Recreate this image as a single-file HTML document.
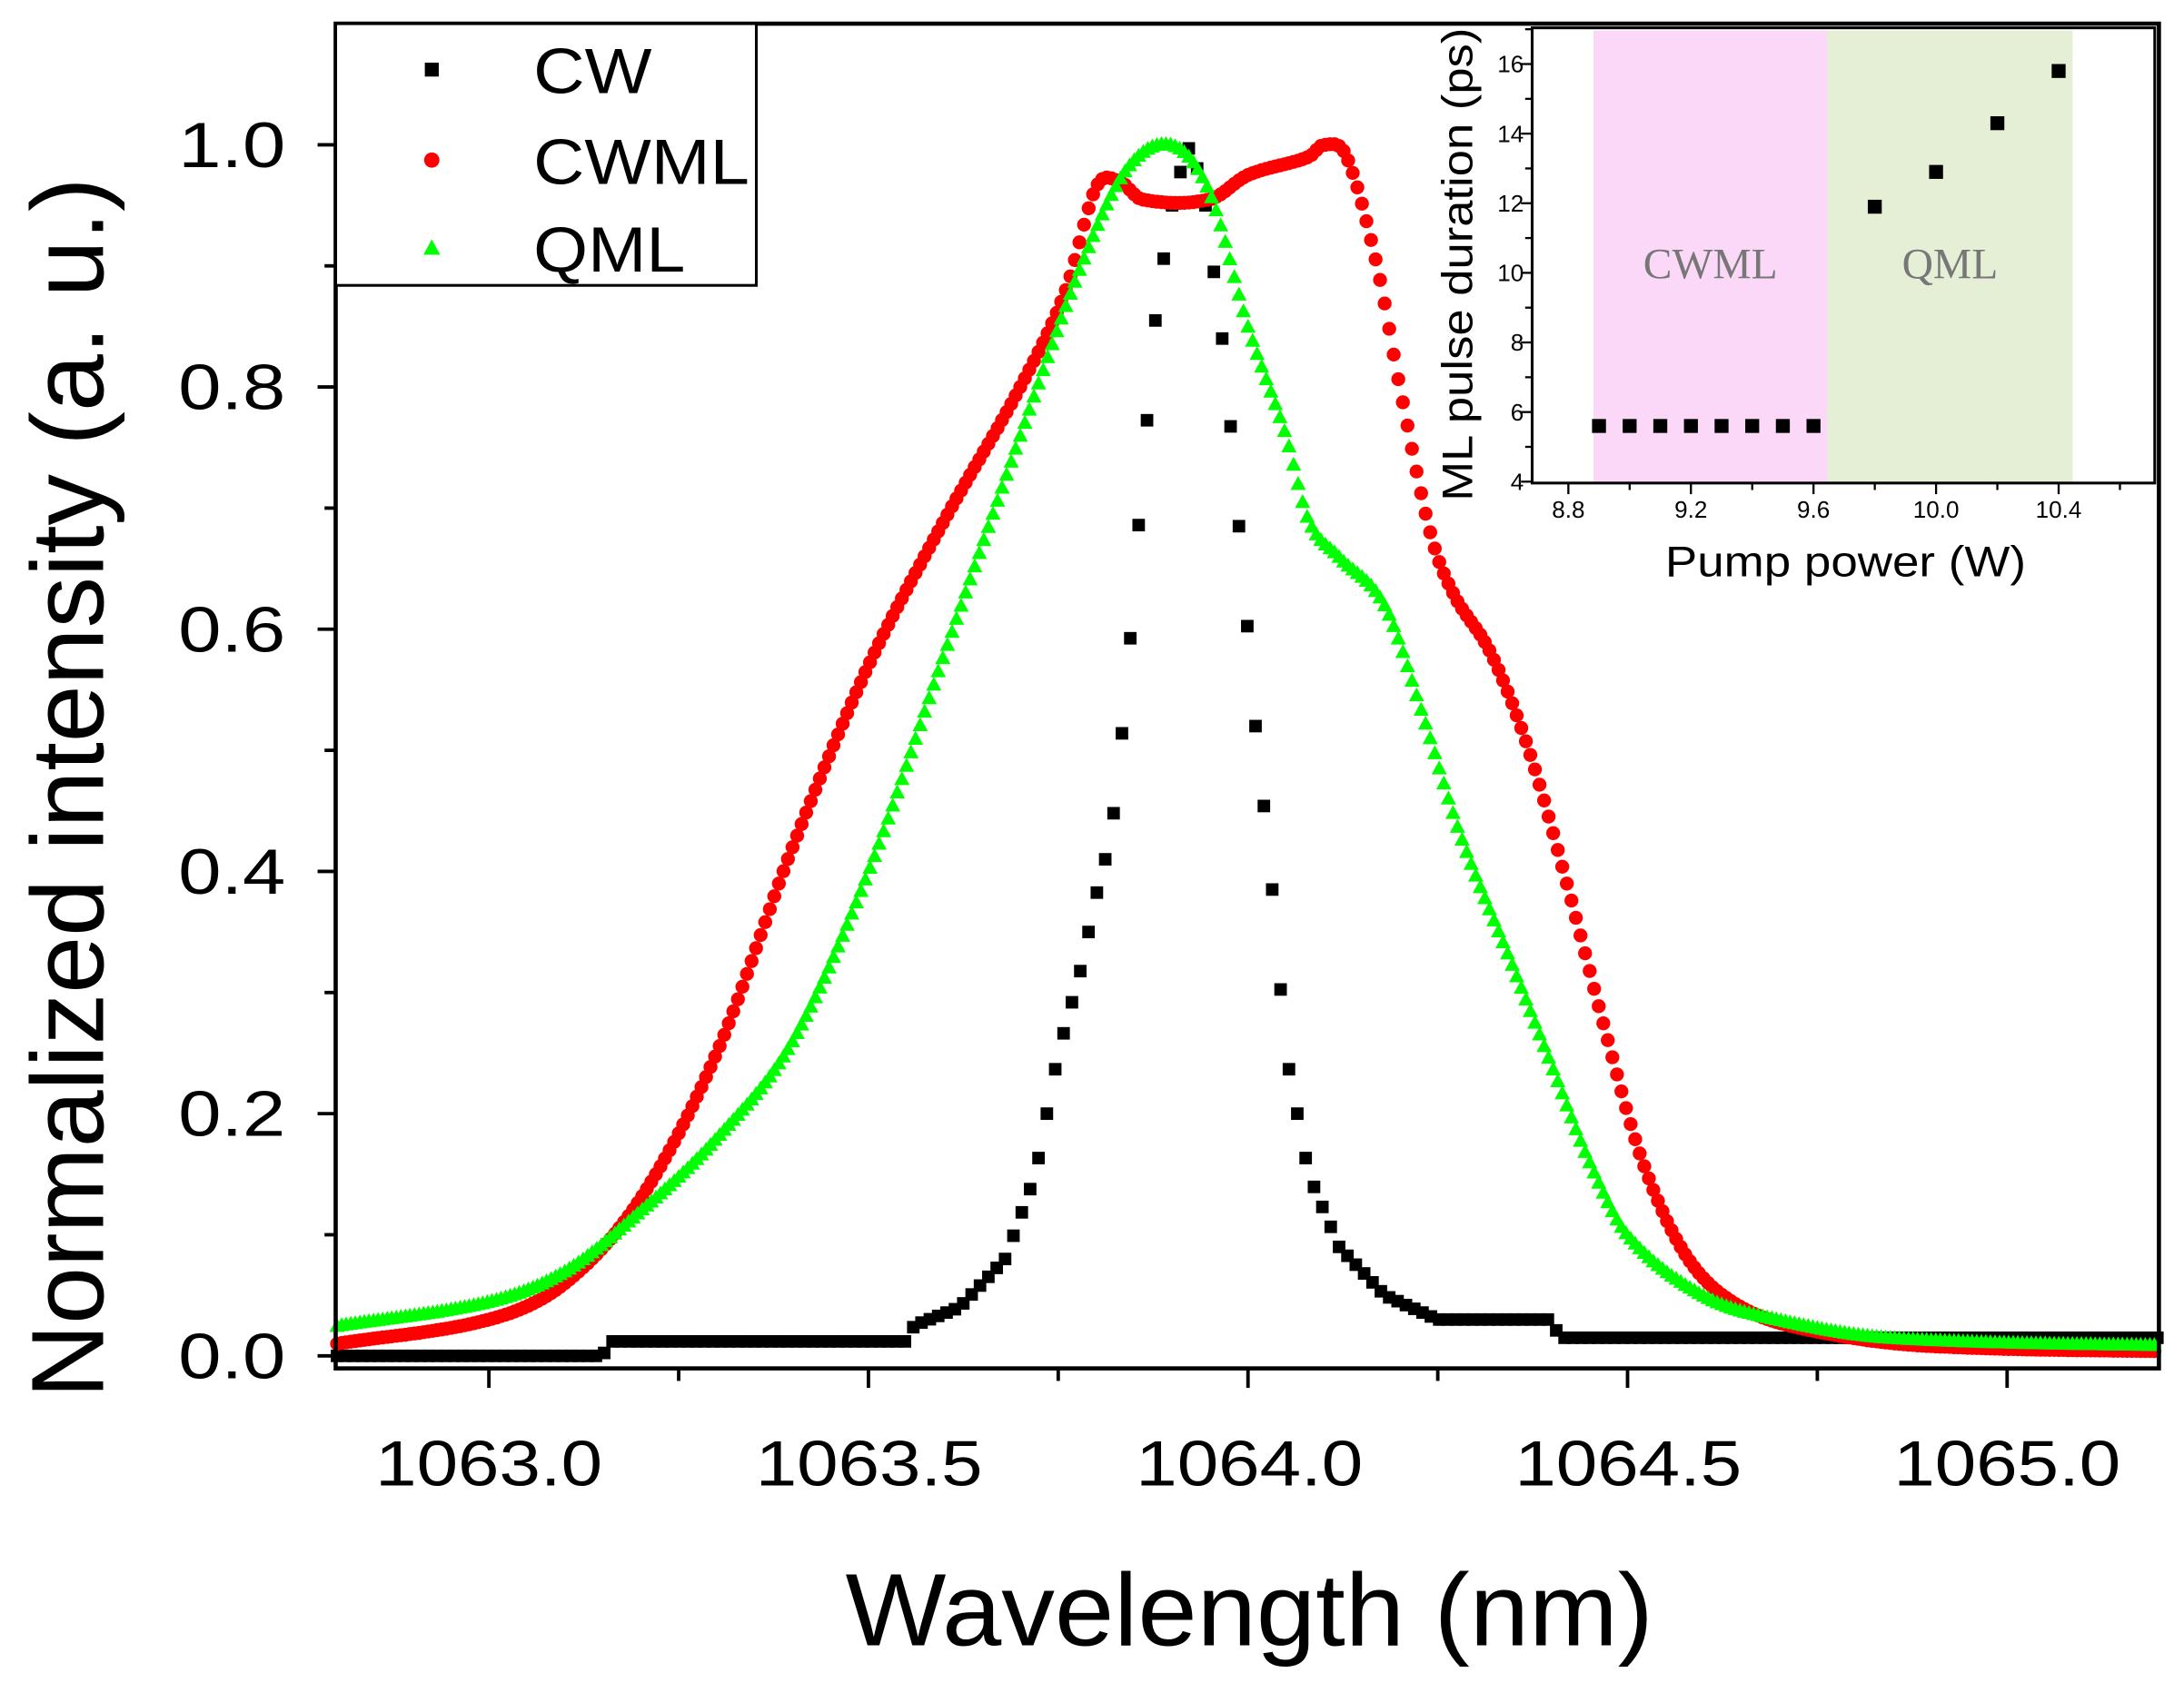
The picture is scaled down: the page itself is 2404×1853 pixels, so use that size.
<!DOCTYPE html>
<html><head><meta charset="utf-8"><style>
html,body{margin:0;padding:0;background:#fff;}
svg{display:block;}
text{font-family:"Liberation Sans",sans-serif;}
</style></head><body>
<svg id="s" width="2404" height="1853" viewBox="0 0 1568 1209" preserveAspectRatio="none" xmlns="http://www.w3.org/2000/svg">
<rect x="0" y="0" width="1568" height="1209" fill="#fff"/>
<g id="data"></g>
<rect x="241" y="17" width="1309" height="966" fill="none" stroke="#000" stroke-width="3"/>
<g id="ticks" stroke="#000" stroke-width="2.5"></g>
<g font-size="46" text-anchor="end" lengthAdjust="spacingAndGlyphs">
<text x="205" y="990" textLength="77" lengthAdjust="spacingAndGlyphs">0.0</text><text x="205" y="816" textLength="77" lengthAdjust="spacingAndGlyphs">0.2</text><text x="205" y="642" textLength="77" lengthAdjust="spacingAndGlyphs">0.4</text><text x="205" y="468" textLength="77" lengthAdjust="spacingAndGlyphs">0.6</text><text x="205" y="294" textLength="77" lengthAdjust="spacingAndGlyphs">0.8</text><text x="205" y="120" textLength="77" lengthAdjust="spacingAndGlyphs">1.0</text>
</g>
<g font-size="46" text-anchor="middle">
<text x="351" y="1067" textLength="163" lengthAdjust="spacingAndGlyphs">1063.0</text><text x="624" y="1067" textLength="163" lengthAdjust="spacingAndGlyphs">1063.5</text><text x="897" y="1067" textLength="163" lengthAdjust="spacingAndGlyphs">1064.0</text><text x="1169" y="1067" textLength="163" lengthAdjust="spacingAndGlyphs">1064.5</text><text x="1441" y="1067" textLength="163" lengthAdjust="spacingAndGlyphs">1065.0</text>
</g>
<text x="897" y="1182" font-size="74" text-anchor="middle" textLength="580" lengthAdjust="spacingAndGlyphs">Wavelength (nm)</text>
<text transform="translate(74,566) rotate(-90)" font-size="74" text-anchor="middle" textLength="877" lengthAdjust="spacingAndGlyphs">Normalized intensity (a. u.)</text>
<rect x="241" y="17" width="302" height="188" fill="#fff" stroke="#000" stroke-width="2"/>
<rect x="305" y="45" width="10" height="10" fill="#000"/>
<circle cx="310" cy="115" r="5.5" fill="#f00"/>
<polygon points="310,172 316,183 304,183" fill="#0f0"/>
<g font-size="46"><text x="383" y="67" textLength="85" lengthAdjust="spacingAndGlyphs">CW</text><text x="383" y="132" textLength="155" lengthAdjust="spacingAndGlyphs">CWML</text><text x="383" y="195" textLength="109" lengthAdjust="spacingAndGlyphs">QML</text></g>
<rect x="1100" y="20" width="447" height="327" fill="#fff"/>
<rect x="1144" y="22" width="168" height="324" fill="#fbd8f7"/>
<rect x="1312" y="22" width="176" height="324" fill="#e4efd6"/>
<rect x="1100" y="20" width="447" height="327" fill="none" stroke="#000" stroke-width="2"/>
<g id="iticks" stroke="#000" stroke-width="1.5"></g>
<g font-size="17" text-anchor="end">
<text x="1094" y="352">4</text><text x="1094" y="302">6</text><text x="1094" y="252">8</text><text x="1094" y="202">10</text><text x="1094" y="152">12</text><text x="1094" y="102">14</text><text x="1094" y="52">16</text>
</g>
<g font-size="17" text-anchor="middle">
<text x="1126" y="372">8.8</text><text x="1214" y="372">9.2</text><text x="1302" y="372">9.6</text><text x="1390" y="372">10.0</text><text x="1478" y="372">10.4</text>
</g>
<text x="1325" y="414" font-size="31" text-anchor="middle" textLength="259" lengthAdjust="spacingAndGlyphs">Pump power (W)</text>
<text transform="translate(1057,190) rotate(-90)" font-size="31" text-anchor="middle" textLength="340" lengthAdjust="spacingAndGlyphs">ML pulse duration (ps)</text>
<g font-size="31" fill="#777" text-anchor="middle">
<text x="1228" y="200" style="font-family:'Liberation Serif',serif">CWML</text>
<text x="1400" y="200" style="font-family:'Liberation Serif',serif">QML</text>
</g>
<g id="ipts" fill="#000"></g>
</svg>
<script>
function X(n){return 351+(n-1063)*545;}
function Y(v){return 974-v*870;}
function interp(pts,x){
 var n=pts.length;
 if(x<=pts[0][0])return pts[0][1];
 for(var i=1;i<n;i++){if(x<=pts[i][0]){
  var a=pts[i-1],b=pts[i];var h=b[0]-a[0],t=(x-a[0])/h;
  var p0=pts[Math.max(i-2,0)],p3=pts[Math.min(i+1,n-1)];
  var m0=(b[1]-p0[1])/(b[0]-p0[0])*h, m1=(p3[1]-a[1])/(p3[0]-a[0])*h;
  var t2=t*t,t3=t2*t;
  return (2*t3-3*t2+1)*a[1]+(t3-2*t2+t)*m0+(-2*t3+3*t2)*b[1]+(t3-t2)*m1;}}
 return pts[n-1][1];
}
function lin(pts,x){
 if(x<=pts[0][0])return pts[0][1];
 for(var i=1;i<pts.length;i++){if(x<=pts[i][0]){var a=pts[i-1],b=pts[i];return a[1]+(b[1]-a[1])*(x-a[0])/(b[0]-a[0]);}}
 return pts[pts.length-1][1];
}
var red=[[1062.8,0.01],[1063.0,0.03],[1063.1,0.06],[1063.2,0.13],[1063.3,0.25],[1063.4,0.42],[1063.5,0.57],[1063.6,0.69],[1063.7,0.80],[1063.76,0.88],[1063.8,0.965],[1063.83,0.97],[1063.86,0.955],[1063.95,0.955],[1064.0,0.975],[1064.08,0.99],[1064.1,1.0],[1064.13,0.99],[1064.17,0.90],[1064.2,0.80],[1064.24,0.68],[1064.27,0.63],[1064.32,0.58],[1064.37,0.50],[1064.42,0.39],[1064.47,0.27],[1064.52,0.16],[1064.58,0.08],[1064.65,0.04],[1064.75,0.02],[1064.9,0.008],[1065.3,0.003]];
var grn=[[1062.8,0.025],[1063.0,0.045],[1063.1,0.07],[1063.2,0.12],[1063.3,0.18],[1063.4,0.26],[1063.5,0.40],[1063.6,0.58],[1063.7,0.76],[1063.78,0.9],[1063.84,0.98],[1063.9,1.0],[1063.95,0.96],[1064.0,0.85],[1064.05,0.76],[1064.08,0.69],[1064.12,0.66],[1064.18,0.62],[1064.23,0.53],[1064.28,0.43],[1064.35,0.32],[1064.4,0.24],[1064.45,0.16],[1064.5,0.10],[1064.6,0.05],[1064.7,0.03],[1064.85,0.015],[1065.3,0.008]];
var cw=[[1062.8,0],[1063.15,0],[1063.16,0.012],[1063.55,0.012],[1063.56,0.025],[1063.62,0.04],[1063.68,0.08],[1063.72,0.15],[1063.75,0.25],[1063.78,0.32],[1063.8,0.38],[1063.82,0.43],[1063.84,0.55],[1063.86,0.72],[1063.88,0.87],[1063.9,0.95],[1063.92,1.0],[1063.94,0.97],[1063.97,0.82],[1063.99,0.67],[1064.01,0.52],[1064.03,0.4],[1064.05,0.25],[1064.08,0.15],[1064.12,0.09],[1064.18,0.05],[1064.25,0.03],[1064.4,0.03],[1064.41,0.015],[1065.3,0.015]];
var h="";var x0=1062.8,x1=1065.2;
for(var x=x0;x<=x1;x+=0.011){var px=X(x),py=Y(lin(cw,x));h+='<rect x="'+(px-4.5).toFixed(1)+'" y="'+(py-4.5).toFixed(1)+'" width="9" height="9" fill="#000"/>';}
for(var x=x0;x<=x1;x+=0.006){var px=X(x),py=Y(interp(red,x));h+='<circle cx="'+px.toFixed(1)+'" cy="'+py.toFixed(1)+'" r="5" fill="#f00"/>';}
for(var x=x0;x<=x1;x+=0.006){var px=X(x),py=Y(interp(grn,x));h+='<polygon points="'+px.toFixed(1)+','+(py-5.5).toFixed(1)+' '+(px+5.5).toFixed(1)+','+(py+4.5).toFixed(1)+' '+(px-5.5).toFixed(1)+','+(py+4.5).toFixed(1)+'" fill="#0f0"/>';}
document.getElementById("data").innerHTML=h;
var t="";
for(var i=0;i<=11;i++){var yy=Y(i*0.1);if(yy<17)continue;t+='<line x1="'+(i%2?233:228)+'" y1="'+yy+'" x2="241" y2="'+yy+'"/>';}
for(var n=1062.75;n<=1065.2;n+=0.25){var xx=X(n);if(xx<241)continue;var maj=Math.abs((n*2)-Math.round(n*2))<1e-6;t+='<line x1="'+xx+'" y1="983" x2="'+xx+'" y2="'+(maj?997:992)+'"/>';}
document.getElementById("ticks").innerHTML=t;
function IX(p){return 1126+(p-8.8)*220;}function IY(v){return 346-(v-4)*25;}
var it="";
for(var v=4;v<=17;v++){it+='<line x1="'+(v%2?1095:1092)+'" y1="'+IY(v)+'" x2="1100" y2="'+IY(v)+'"/>';}
for(var p=8.8;p<=10.65;p+=0.2){it+='<line x1="'+IX(p)+'" y1="347" x2="'+IX(p)+'" y2="'+(Math.round(p*10)%4==0?355:352)+'"/>';}
document.getElementById("iticks").innerHTML=it;
var ip="",pts=[[8.9,5.6],[9.0,5.6],[9.1,5.6],[9.2,5.6],[9.3,5.6],[9.4,5.6],[9.5,5.6],[9.6,5.6],[9.8,11.9],[10.0,12.9],[10.2,14.3],[10.4,15.8]];
pts.forEach(function(q){ip+='<rect x="'+(IX(q[0])-5)+'" y="'+(IY(q[1])-5)+'" width="10" height="10"/>';});
document.getElementById("ipts").innerHTML=ip;
</script>
</body></html>
